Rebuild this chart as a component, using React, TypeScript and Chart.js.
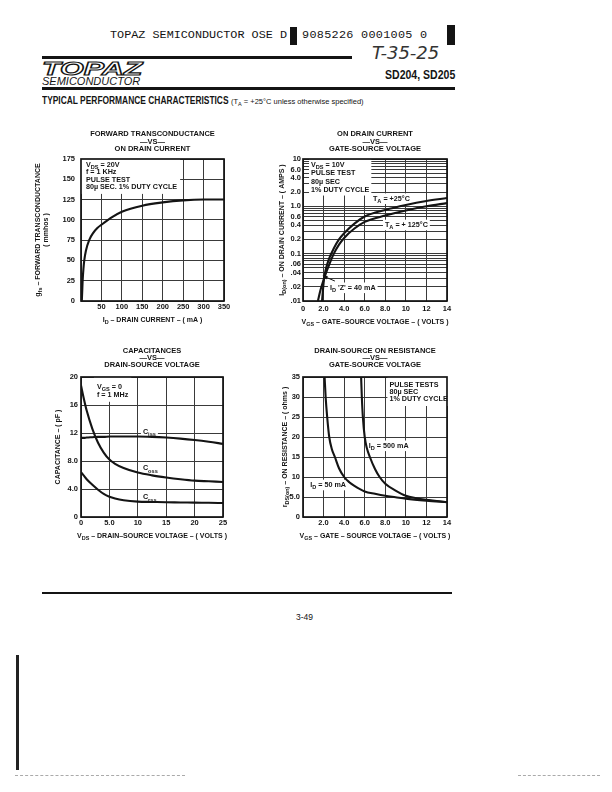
import React, { useEffect, useRef } from 'react';
import { Chart, registerables } from 'chart.js';

Chart.register(...registerables);

const INK = '#141414';
const GRID = '#3a3a3a';
const SANS = '"Liberation Sans", Arial, Helvetica, sans-serif';
const MONO = '"Liberation Mono", "DejaVu Sans Mono", monospace';

// ---------- Chart 1: forward transconductance vs drain current ----------
const gfsDrainCurrent = [2, 3, 4, 6, 8, 12, 20, 30, 40, 50, 75, 100, 150, 200, 250, 300, 350];
const gfsValues = [0, 12, 25, 40, 50, 62, 75, 84, 90, 94, 103, 110, 117.5, 121.5, 124, 125, 125];
const gfsXTicks = [0, 50, 100, 150, 200, 250, 300, 350];
const gfsXLabels = ['', '50', '100', '150', '200', '250', '300', '350'];
const gfsYTicks = [0, 25, 50, 75, 100, 125, 150, 175];
const gfsYLabels = ['0', '25', '50', '75', '100', '125', '150', '175'];

// ---------- Chart 2: on drain current vs gate-source voltage ----------
const vgsAt25C = [1.85, 1.95, 2.05, 2.2, 2.5, 3.0, 3.5, 4.0, 5.0, 6.0, 8.0, 10, 12, 14];
const idAt25C = [0.01, 0.018, 0.03, 0.045, 0.075, 0.13, 0.2, 0.27, 0.43, 0.61, 0.84, 1.07, 1.3, 1.5];
const vgsAt125C = [1.45, 1.7, 2.05, 2.2, 2.5, 3.0, 3.5, 4.0, 5.0, 6.0, 8.0, 10, 12, 14];
const idAt125C = [0.01, 0.017, 0.03, 0.037, 0.055, 0.1, 0.155, 0.215, 0.34, 0.47, 0.64, 0.82, 1.0, 1.17];
const idXTicks = [0, 2, 4, 6, 8, 10, 12, 14];
const idXLabels = ['0', '2.0', '4.0', '6.0', '8.0', '10', '12', '14'];
const idYLabelValues = [10, 6, 4, 2, 1, 0.6, 0.4, 0.2, 0.1, 0.06, 0.04, 0.02, 0.01];
const idYLabels = ['10', '6.0', '4.0', '2.0', '1.0', '0.6', '0.4', '0.2', '0.1', '.06', '.04', '.02', '.01'];
const idGridDecades = [0.01, 0.1, 1];
const idGridMantissas = [1, 2, 3, 4, 5, 6, 7, 8, 9];
const idGridValues = idGridDecades
  .flatMap((d) => idGridMantissas.map((m) => +(m * d).toPrecision(3)))
  .concat([10]);

// ---------- Chart 3: capacitances vs drain-source voltage ----------
const capVds = [0, 0.5, 1, 2, 3, 4, 5, 6, 7.5, 10, 12.5, 15, 17.5, 20, 22.5, 25];
const cissValues = [11.3, 11.3, 11.35, 11.4, 11.45, 11.45, 11.5, 11.5, 11.5, 11.5, 11.45, 11.35, 11.2, 11.0, 10.75, 10.45];
const cossValues = [18.8, 16.9, 15.2, 12.6, 10.6, 9.2, 8.2, 7.6, 7.0, 6.35, 5.95, 5.65, 5.4, 5.2, 5.1, 5.0];
const crssValues = [6.4, 5.9, 5.4, 4.6, 3.9, 3.3, 2.9, 2.65, 2.4, 2.2, 2.15, 2.1, 2.08, 2.05, 2.03, 2.0];
const capXTicks = [0, 5, 10, 15, 20, 25];
const capXLabels = ['0', '5.0', '10', '15', '20', '25'];
const capYTicks = [0, 4, 8, 12, 16, 20];
const capYLabels = ['0', '4.0', '8.0', '12', '16', '20'];

// ---------- Chart 4: drain-source on resistance vs gate-source voltage ----------
const vgsAt50mA = [2.1, 2.2, 2.35, 2.55, 2.8, 3.1, 3.5, 4.0, 4.5, 5.0, 6.0, 7.0, 8.0, 9.0, 10, 12, 14];
const rdsAt50mA = [35, 30, 25, 20, 17, 15, 12.2, 10, 8.7, 7.8, 6.4, 5.8, 5.3, 4.95, 4.6, 4.1, 3.7];
const vgsAt500mA = [5.65, 5.72, 5.82, 6.0, 6.2, 6.5, 7.0, 7.45, 8.0, 9.0, 10, 11, 12, 13, 14];
const rdsAt500mA = [35, 30, 25, 20, 17.3, 15, 12, 10, 8.3, 6.6, 5.3, 4.7, 4.3, 4.0, 3.75];
const rdsXTicks = [0, 2, 4, 6, 8, 10, 12, 14];
const rdsXLabels = ['', '2.0', '4.0', '6.0', '8.0', '10', '12', '14'];
const rdsYTicks = [0, 5, 10, 15, 20, 25, 30, 35];
const rdsYLabels = ['0', '5.0', '10', '15', '20', '25', '30', '35'];

// ---------- helpers ----------
type Seg = { t: string; sub: boolean };
function parseRich(s: string): Seg[] {
  const segs: Seg[] = [];
  const re = /_\{([^}]*)\}/g;
  let last = 0;
  let m: RegExpExecArray | null;
  while ((m = re.exec(s))) {
    if (m.index > last) segs.push({ t: s.slice(last, m.index), sub: false });
    segs.push({ t: m[1], sub: true });
    last = re.lastIndex;
  }
  if (last < s.length) segs.push({ t: s.slice(last), sub: false });
  return segs;
}
function segFont(size: number, sub: boolean) {
  return `bold ${sub ? size * 0.78 : size}px ${SANS}`;
}
function richWidth(ctx: CanvasRenderingContext2D, segs: Seg[], size: number) {
  let w = 0;
  for (const s of segs) {
    ctx.font = segFont(size, s.sub);
    w += ctx.measureText(s.t).width;
  }
  return w;
}
function drawRich(ctx: CanvasRenderingContext2D, segs: Seg[], x: number, y: number, size: number) {
  ctx.fillStyle = INK;
  ctx.textBaseline = 'middle';
  ctx.textAlign = 'left';
  let cx = x;
  for (const s of segs) {
    ctx.font = segFont(size, s.sub);
    ctx.fillText(s.t, cx, s.sub ? y + size * 0.38 : y);
    cx += ctx.measureText(s.t).width;
  }
}

type Note = { x: number; y: number; lines: string[]; lh?: number; size?: number; pad?: number[] };
type Arrow = { x1: number; y1: number; x2: number; y2: number };

const AXIS_SIZE = 7;
const AXIS_LH = 8.05;

function notesPlugin(spec: Spec) {
  const notes = spec.notes;
  const arrows = spec.arrows ?? [];
  return {
    id: 'notes',
    beforeDatasetsDraw(chart: any) {
      const ctx: CanvasRenderingContext2D = chart.ctx;
      const xs = chart.scales.x;
      const ys = chart.scales.y;
      ctx.save();
      for (const n of notes) {
        const size = n.size ?? 7.2;
        const lh = n.lh ?? 7.6;
        const px = xs.getPixelForValue(n.x);
        const py = ys.getPixelForValue(n.y);
        const parsed = n.lines.map(parseRich);
        const w = Math.max(...parsed.map((p) => richWidth(ctx, p, size)));
        const [pt, pr, pb, pl] = n.pad ?? [1.5, 2, 1.5, 2];
        ctx.fillStyle = '#fff';
        ctx.fillRect(px - pl, py - lh / 2 - pt, w + pl + pr, lh * n.lines.length + pt + pb);
        parsed.forEach((p, i) => drawRich(ctx, p, px, py + i * lh, size));
      }
      ctx.restore();
    },
    afterDatasetsDraw(chart: any) {
      const ctx: CanvasRenderingContext2D = chart.ctx;
      const xs = chart.scales.x;
      const ys = chart.scales.y;
      ctx.save();
      ctx.strokeStyle = INK;
      ctx.fillStyle = INK;
      for (const a of arrows) {
        const x1 = xs.getPixelForValue(a.x1);
        const y1 = ys.getPixelForValue(a.y1);
        const x2 = xs.getPixelForValue(a.x2);
        const y2 = ys.getPixelForValue(a.y2);
        ctx.lineWidth = 1;
        ctx.beginPath();
        ctx.moveTo(x1, y1);
        ctx.lineTo(x2, y2);
        ctx.stroke();
        const ang = Math.atan2(y2 - y1, x2 - x1);
        const L = 5;
        ctx.beginPath();
        ctx.moveTo(x2, y2);
        ctx.lineTo(x2 - L * Math.cos(ang - 0.4), y2 - L * Math.sin(ang - 0.4));
        ctx.lineTo(x2 - L * Math.cos(ang + 0.4), y2 - L * Math.sin(ang + 0.4));
        ctx.closePath();
        ctx.fill();
      }
      const { left, top, right, bottom } = chart.chartArea;
      ctx.lineWidth = 1.7;
      ctx.strokeRect(left, top, right - left, bottom - top);
      ctx.restore();
    },
    afterDraw(chart: any) {
      // axis titles with subscripts
      const ctx: CanvasRenderingContext2D = chart.ctx;
      const { left, right, top, bottom } = chart.chartArea;
      ctx.save();
      const xt = parseRich(spec.xTitle);
      const xw = richWidth(ctx, xt, AXIS_SIZE);
      const ty = chart.height - AXIS_LH / 2 - spec.xTitlePad;
      drawRich(ctx, xt, (left + right) / 2 - xw / 2, ty, AXIS_SIZE);
      const cy = (top + bottom) / 2;
      spec.yTitle.forEach((line, i) => {
        const segs = parseRich(line);
        const w = richWidth(ctx, segs, AXIS_SIZE);
        const x = chart.scales.y.left + AXIS_LH / 2 + spec.yTitlePad + i * AXIS_LH;
        ctx.save();
        ctx.translate(x, cy);
        ctx.rotate(-Math.PI / 2);
        drawRich(ctx, segs, -w / 2, 0, AXIS_SIZE);
        ctx.restore();
      });
      ctx.restore();
    },
  };
}

function labelFor(v: number, values: number[], labels: string[]) {
  const i = values.findIndex((t) => Math.abs(t - v) <= Math.abs(t) * 1e-6 + 1e-9);
  return i >= 0 ? labels[i] : '';
}

const tickFont = { family: SANS, size: 7.5, weight: 'bold' as const };
const titleFont = { family: SANS, size: 7.5, weight: 'bold' as const, lineHeight: 0.96 };

type AxisSpec = {
  type: 'linear' | 'logarithmic';
  min: number;
  max: number;
  gridValues: number[];
  labelValues: number[];
  labels: string[];
  size: number;
  tickPad: number;
};

function axis(dir: 'x' | 'y', s: AxisSpec) {
  return {
    type: s.type,
    min: s.min,
    max: s.max,
    afterBuildTicks: (sc: any) => {
      sc.ticks = s.gridValues.map((v) => ({ value: v }));
    },
    afterFit: (sc: any) => {
      if (dir === 'x') sc.height = s.size;
      else sc.width = s.size;
    },
    ticks: {
      autoSkip: false,
      maxRotation: 0,
      minRotation: 0,
      padding: s.tickPad,
      color: INK,
      font: tickFont,
      callback: (v: number) => labelFor(v, s.labelValues, s.labels),
    },
    grid: { color: GRID, lineWidth: 1, drawTicks: false },
    border: { display: false },
    title: { display: false },
  };
}

function curve(xs: number[], ys: number[]) {
  return {
    data: xs.map((x, i) => ({ x, y: ys[i] })),
    borderColor: INK,
    borderWidth: 2.1,
    pointRadius: 0,
    fill: false,
    cubicInterpolationMode: 'monotone' as const,
  };
}

type Spec = {
  xAxis: AxisSpec;
  yAxis: AxisSpec;
  xTitle: string;
  xTitlePad: number;
  yTitle: string[];
  yTitlePad: number;
  datasets: any[];
  title: string[];
  titlePad: [number, number];
  padRight: number;
  notes: Note[];
  arrows?: Arrow[];
};

function buildConfig(p: Spec): any {
  return {
    type: 'line',
    data: { datasets: p.datasets },
    options: {
      responsive: false,
      animation: false,
      devicePixelRatio: 1,
      events: [],
      layout: { padding: { left: 0, right: p.padRight, top: 0, bottom: 0 } },
      scales: { x: axis('x', p.xAxis), y: axis('y', p.yAxis) },
      plugins: {
        legend: { display: false },
        tooltip: { enabled: false },
        title: {
          display: true,
          text: p.title,
          fullSize: false,
          color: INK,
          font: titleFont,
          padding: { top: p.titlePad[0], bottom: p.titlePad[1] },
        },
      },
    },
    plugins: [notesPlugin(p)],
  };
}

const chart1: Spec = {
  title: ['FORWARD TRANSCONDUCTANCE', '\u2014VS\u2014', 'ON DRAIN CURRENT'],
  titlePad: [5.7, 6.7],
  padRight: 11,
  xAxis: {
    type: 'linear', min: 0, max: 350, gridValues: gfsXTicks, labelValues: gfsXTicks, labels: gfsXLabels,
    size: 29, tickPad: 1,
  },
  yAxis: {
    type: 'linear', min: 0, max: 175, gridValues: gfsYTicks, labelValues: gfsYTicks, labels: gfsYLabels,
    size: 61, tickPad: 6,
  },
  xTitle: 'I_{D} \u2013 DRAIN CURRENT \u2013 ( mA )',
  xTitlePad: 6,
  yTitle: ['g_{fs} \u2013 FORWARD TRANSCONDUCTANCE', '( mmhos )'],
  yTitlePad: 14,
  datasets: [curve(gfsDrainCurrent, gfsValues)],
  notes: [
    {
      x: 12, y: 167.6, lh: 7.4,
      lines: ['V_{DS} = 20V', 'f = 1 KHz', 'PULSE TEST', '80\u00b5 SEC. 1% DUTY CYCLE'],
      pad: [6, 3, 3, 5],
    },
  ],
};

const chart2: Spec = {
  title: ['ON DRAIN CURRENT', '\u2014VS\u2014', 'GATE-SOURCE VOLTAGE'],
  titlePad: [5.7, 6.7],
  padRight: 13,
  xAxis: {
    type: 'linear', min: 0, max: 14, gridValues: idXTicks, labelValues: idXTicks, labels: idXLabels,
    size: 29, tickPad: 3,
  },
  yAxis: {
    type: 'logarithmic', min: 0.01, max: 10, gridValues: idGridValues, labelValues: idYLabelValues, labels: idYLabels,
    size: 33, tickPad: 2,
  },
  xTitle: 'V_{GS} \u2013 GATE\u2013SOURCE VOLTAGE \u2013 ( VOLTS )',
  xTitlePad: 4,
  yTitle: ['I_{D(on)} \u2013 ON DRAIN CURRENT \u2013 ( AMPS )'],
  yTitlePad: 8,
  datasets: [curve(vgsAt25C, idAt25C), curve(vgsAt125C, idAt125C)],
  notes: [
    { x: 0.78, y: 7.47, lh: 8.3, lines: ['V_{DS} = 10V', 'PULSE TEST', '80\u00b5 SEC', '1% DUTY CYCLE'] },
    { x: 6.8, y: 1.45, lines: ['T_{A} = +25\u00b0C'] },
    { x: 7.97, y: 0.404, lines: ['T_{A} = + 125\u00b0C'] },
    { x: 2.62, y: 0.019, lines: ["I_{D} 'Z' = 40 mA"] },
  ],
  arrows: [{ x1: 3.1, y1: 0.0264, x2: 1.93, y2: 0.034 }],
};

const chart3: Spec = {
  title: ['CAPACITANCES', '\u2014VS\u2014', 'DRAIN-SOURCE VOLTAGE'],
  titlePad: [7.1, 8.3],
  padRight: 12,
  xAxis: {
    type: 'linear', min: 0, max: 25, gridValues: capXTicks, labelValues: capXTicks, labels: capXLabels,
    size: 28, tickPad: 1,
  },
  yAxis: {
    type: 'linear', min: 0, max: 20, gridValues: capYTicks, labelValues: capYTicks, labels: capYLabels,
    size: 61, tickPad: 3,
  },
  xTitle: 'V_{DS} \u2013 DRAIN\u2013SOURCE VOLTAGE \u2013 ( VOLTS )',
  xTitlePad: 4.7,
  yTitle: ['CAPACITANCE \u2013 ( pF )'],
  yTitlePad: 34.5,
  datasets: [curve(capVds, cissValues), curve(capVds, cossValues), curve(capVds, crssValues)],
  notes: [
    { x: 2.8, y: 18.6, lh: 8, lines: ['V_{GS} = 0', 'f = 1 MHz'], pad: [7, 3, 3, 3] },
    { x: 10.9, y: 12.2, lines: ['C_{iss}'] },
    { x: 10.9, y: 6.96, lines: ['C_{oss}'] },
    { x: 10.9, y: 2.8, lines: ['C_{rss}'] },
  ],
};

const chart4: Spec = {
  title: ['DRAIN-SOURCE ON RESISTANCE', '\u2014VS\u2014', 'GATE-SOURCE VOLTAGE'],
  titlePad: [7.4, 8],
  padRight: 13,
  xAxis: {
    type: 'linear', min: 0, max: 14, gridValues: rdsXTicks, labelValues: rdsXTicks, labels: rdsXLabels,
    size: 28, tickPad: 1,
  },
  yAxis: {
    type: 'linear', min: 0, max: 35, gridValues: rdsYTicks, labelValues: rdsYTicks, labels: rdsYLabels,
    size: 33, tickPad: 3,
  },
  xTitle: 'V_{GS} \u2013 GATE \u2013 SOURCE VOLTAGE \u2013 ( VOLTS )',
  xTitlePad: 5,
  yTitle: ['r_{DS(on)} \u2013 ON RESISTANCE \u2013 ( ohms )'],
  yTitlePad: 11,
  datasets: [curve(vgsAt50mA, rdsAt50mA), curve(vgsAt500mA, rdsAt500mA)],
  notes: [
    { x: 8.4, y: 33, lh: 7.2, lines: ['PULSE TESTS', '80\u00b5 SEC', '1% DUTY CYCLE'], pad: [6, 3, 3, 2] },
    { x: 6.4, y: 17.8, lines: ['I_{D} = 500 mA'] },
    { x: 0.7, y: 8.0, lines: ['I_{D} = 50 mA'] },
  ],
};

function ChartBox(props: { left: number; top: number; width: number; height: number; spec: Spec }) {
  const ref = useRef<HTMLCanvasElement>(null);
  useEffect(() => {
    const chart = new Chart(ref.current as HTMLCanvasElement, buildConfig(props.spec));
    return () => chart.destroy();
  }, []);
  return (
    <canvas
      ref={ref}
      width={props.width}
      height={props.height}
      style={{ position: 'absolute', left: props.left, top: props.top, width: props.width, height: props.height }}
    />
  );
}

const abs = (s: React.CSSProperties): React.CSSProperties => ({ position: 'absolute', ...s });

export default function App() {
  return (
    <div
      style={{
        position: 'fixed', left: 0, top: 0, width: 612, height: 792, background: '#fff',
        overflow: 'hidden', fontFamily: SANS, color: INK,
      }}
    >
      <div style={abs({ left: 110, top: 30, fontFamily: MONO, fontSize: 11.8, lineHeight: '11.8px', whiteSpace: 'pre' })}>
        TOPAZ SEMICONDUCTOR OSE D
      </div>
      <div style={abs({ left: 290, top: 27, width: 7, height: 18, background: INK })} />
      <div style={abs({ left: 302, top: 30, fontFamily: MONO, fontSize: 11.8, letterSpacing: 0.3, lineHeight: '11.8px', whiteSpace: 'pre' })}>
        9085226 0001005 0
      </div>
      <div style={abs({ left: 447, top: 25, width: 8, height: 20, background: INK })} />
      <div style={abs({ left: 42, top: 56, width: 310, height: 2.5, background: INK })} />
      <div style={abs({ left: 372, top: 44, fontFamily: '"DejaVu Sans", sans-serif', fontStyle: 'italic', fontSize: 18, lineHeight: '18px', whiteSpace: 'pre', color: '#333' })}>
        T-35-25
      </div>
      <div
        style={abs({
          left: 42, top: 58.5, fontSize: 19, lineHeight: '19px', fontWeight: 'bold', fontStyle: 'italic',
          color: '#fff', WebkitTextStroke: '1.1px #141414', transform: 'scaleX(1.6)', transformOrigin: 'left top',
          whiteSpace: 'pre',
        })}
      >
        TOPAZ
      </div>
      <div style={abs({ left: 42, top: 75.5, fontSize: 11, lineHeight: '11px', fontStyle: 'italic', whiteSpace: 'pre' })}>
        SEMICONDUCTOR
      </div>
      <div
        style={abs({
          left: 385, top: 68.4, fontSize: 13.5, lineHeight: '13.5px', fontWeight: 'bold', whiteSpace: 'pre',
          transform: 'scaleX(0.78)', transformOrigin: 'left top',
        })}
      >
        SD204, SD205
      </div>
      <div style={abs({ left: 42, top: 87, width: 413, height: 2.5, background: INK })} />
      <div
        style={abs({
          left: 42, top: 96.1, fontSize: 10, lineHeight: '10px', fontWeight: 'bold', whiteSpace: 'pre',
          transform: 'scaleX(0.84)', transformOrigin: 'left top',
        })}
      >
        TYPICAL PERFORMANCE CHARACTERISTICS
      </div>
      <div style={abs({ left: 231, top: 98.2, fontSize: 7.5, lineHeight: '7.5px', whiteSpace: 'pre' })}>
        (T<sub style={{ fontSize: 5.5, verticalAlign: '-1.5px' }}>A</sub> = +25°C unless otherwise specified)
      </div>

      <ChartBox left={20} top={125} width={215} height={205} spec={chart1} />
      <ChartBox left={270} top={125} width={190} height={205} spec={chart2} />
      <ChartBox left={20} top={340} width={215} height={205} spec={chart3} />
      <ChartBox left={270} top={340} width={190} height={205} spec={chart4} />

      <div style={abs({ left: 42, top: 592, width: 410, height: 2, background: INK })} />
      <div style={abs({ left: 296, top: 612.8, fontSize: 8.5, lineHeight: '8.5px', whiteSpace: 'pre' })}>3-49</div>
      <div style={abs({ left: 16, top: 655, width: 2.5, height: 115, background: '#222' })} />
      <div style={abs({ left: 15, top: 775, width: 170, height: 0, borderTop: '1px dashed #aaa' })} />
      <div style={abs({ left: 518, top: 775, width: 82, height: 0, borderTop: '1px dashed #aaa' })} />
    </div>
  );
}
